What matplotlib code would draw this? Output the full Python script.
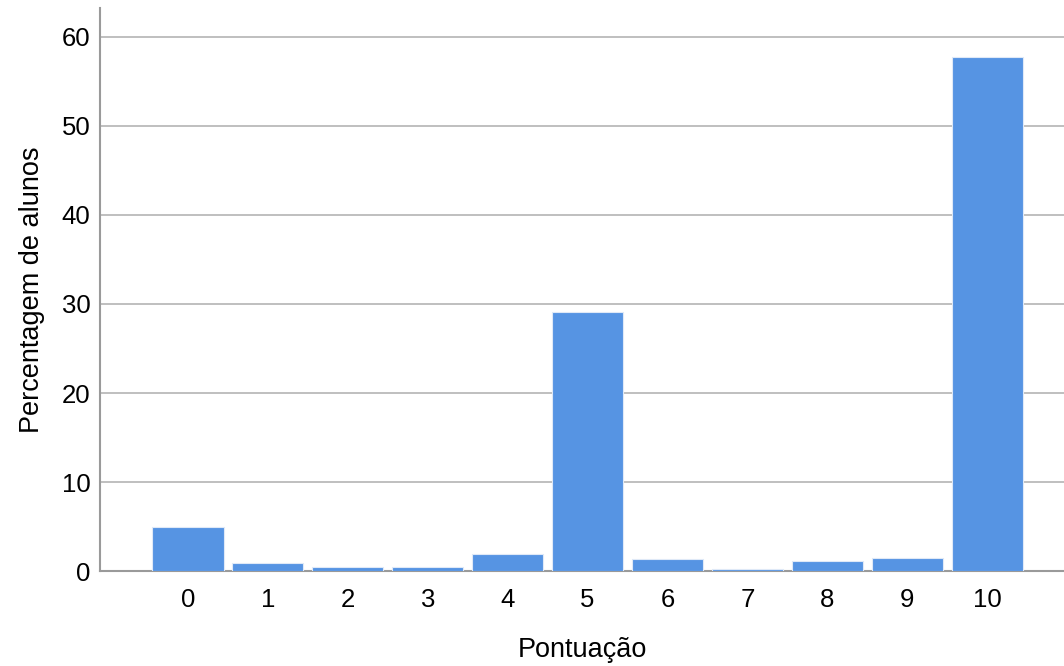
import matplotlib.pyplot as plt

plt.rcParams['font.family'] = ['Liberation Sans', 'DejaVu Sans']

# Pontuação vs percentage of students
scores = [0, 1, 2, 3, 4, 5, 6, 7, 8, 9, 10]
percent = [5.0, 0.9, 0.5, 0.5, 1.9, 29.1, 1.4, 0.2, 1.1, 1.5, 57.8]
yticks = [0, 10, 20, 30, 40, 50, 60]

fig = plt.figure(figsize=(10.64, 6.66), dpi=100)
ax = fig.add_axes([0.094, 0.1426, 0.906, 0.846])

ax.bar(scores, percent, width=0.89, color="#5694e3", edgecolor="#dfe9f7",
       linewidth=0.8, zorder=3)

ax.set_xlim(-1.1, 10.96)
ax.set_ylim(0, 63.3)
ax.set_yticks(yticks)
ax.set_xticks(scores)
ax.set_xticklabels([str(s) for s in scores])
ax.yaxis.grid(True, color="#b4b4b4", linewidth=1.2, zorder=0)
ax.tick_params(axis="both", length=0, labelsize=18.5, colors="black")
ax.tick_params(axis="x", pad=12)
ax.tick_params(axis="y", pad=7)

for side in ["top", "right"]:
    ax.spines[side].set_visible(False)
for side in ["left", "bottom"]:
    ax.spines[side].set_color("#9a9a9a")
    ax.spines[side].set_linewidth(1.5)

ax.set_xlabel("Pontuação", fontsize=19.5, labelpad=18)
ax.set_ylabel("Percentagem de alunos", fontsize=19.5, labelpad=12)

fig.savefig("out.png", dpi=100)
